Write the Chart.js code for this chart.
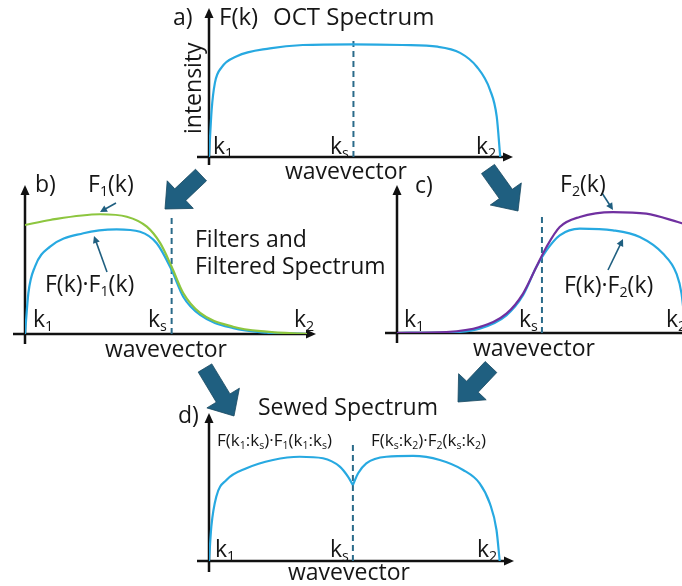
<!DOCTYPE html>
<html>
<head>
<meta charset="utf-8">
<script src="https://cdn.jsdelivr.net/npm/chart.js@4.4.1/dist/chart.umd.min.js"></script>
<style>
  body { margin: 0; background: #fff; width: 682px; height: 586px; overflow: hidden; position: relative; font-family: "Open Sans", sans-serif; }
  canvas { position: absolute; }
  .t { position: absolute; white-space: nowrap; line-height: 1; color: #161616; }
  .s { font-size: 62%; position: relative; top: 0.32em; }
  svg { position: absolute; left: 0; top: 0; }
</style>
</head>
<body>
<script>
// ---- data (k normalised: 0 = k1, 100 = k2; intensity: 100 = OCT plateau) ----
const kA = [0, 0.9, 2.0, 4.3, 9.5, 20.8, 32, 49, 66, 78, 85.7, 91.4, 95.9, 98.2, 99.4];
const specA = [0, 42, 66, 80, 90, 97, 100, 100.6, 100, 98.5, 93, 80.6, 60, 36, 0];

const kB1 = [0, 8.9, 26.6, 36.1, 43.2, 47.9, 52, 56.1, 62.1, 73.8, 85.7, 100];
const filterB1 = [97.3, 101.8, 106.9, 104.7, 95.8, 81.3, 60.1, 36.6, 18.8, 6.5, 2.1, 0];
const kB2 = [0, 1.2, 3.5, 8.9, 20.7, 32.5, 40.8, 46.7, 52, 56.1, 62.1, 73.9, 85.7, 100];
const prodB1 = [0, 36.6, 60, 78, 90, 93.5, 91.3, 81, 57.1, 33.3, 17, 5.1, 1.2, 0];

const kC1 = [0, 17.5, 29.3, 38.8, 44.7, 49.4, 53, 57.7, 64.8, 76.6, 88.4, 99.6, 103.7];
const filterC2 = [0, 0.9, 5.4, 17.3, 35.2, 58.9, 76.8, 94.6, 103.6, 108, 106.6, 99.1, 96];
const kC2 = [0, 17.5, 29.3, 38.8, 44.7, 49.4, 53, 57.7, 64.8, 76.6, 86.1, 94.3, 99.1, 100.9, 102.4];
const prodC2 = [0, 0.4, 3.9, 15.8, 33.7, 58.9, 73.8, 87.2, 93.2, 91.7, 85.7, 70.9, 53, 35.2, 0];

const kD1 = [0, 0.8, 2.5, 6, 12.9, 22, 31.2, 39.2, 45, 47.8, 49.5];
const sewD1 = [0, 30.6, 57.4, 72.3, 82.8, 90.2, 93.1, 91.7, 84.2, 75.3, 67.9];
const kD2 = [49.5, 51.3, 54.1, 61, 70.2, 79.4, 87.4, 93.1, 96.6, 98.9, 100];
const sewD2 = [67.9, 78.3, 87.2, 93.1, 93.8, 90.2, 81.3, 69.4, 51.5, 27.7, 0];

// split point ks and height of its dashed marker, per panel a, b, c, d
const ksPos = [49.3, 52, 51.4, 49.5];
const ksTop = [104.5, 104.5, 105, 106];

const BLUE = "#27a9e1", GREEN = "#8dc63f", PURPLE = "#7030a0", DASH = "#2b6b8a", DARK = "#1f5f80";

const pts = (xs, ys) => xs.map((x, i) => ({ x: x, y: ys[i] }));

const axesPlugin = {
  id: "axes",
  beforeDatasetsDraw(chart, args, opts) {
    const { ctx, chartArea: a } = chart;
    const ox = chart.scales.x.getPixelForValue(0);
    const oy = chart.scales.y.getPixelForValue(0);
    ctx.save();
    ctx.strokeStyle = "#111";
    ctx.fillStyle = "#111";
    ctx.lineWidth = 2.5;
    ctx.beginPath();
    ctx.moveTo(ox - opts.extL, oy);
    ctx.lineTo(a.right - 6, oy);
    ctx.moveTo(ox, oy + opts.extB);
    ctx.lineTo(ox, a.top + 6);
    ctx.stroke();
    ctx.beginPath();
    ctx.moveTo(a.right, oy); ctx.lineTo(a.right - 10, oy - 4.5); ctx.lineTo(a.right - 10, oy + 4.5);
    ctx.fill();
    ctx.beginPath();
    ctx.moveTo(ox, a.top); ctx.lineTo(ox - 4.5, a.top + 10); ctx.lineTo(ox + 4.5, a.top + 10);
    ctx.fill();
    ctx.restore();
  }
};

function curve(data, color) {
  return { data: data, borderColor: color, borderWidth: 2.2, pointRadius: 0, fill: false, cubicInterpolationMode: "monotone" };
}
function dashed(ks, top) {
  return { data: [{ x: ks, y: 0 }, { x: ks, y: top }], borderColor: DASH, borderWidth: 2, borderDash: [6, 4], pointRadius: 0, fill: false };
}

// g: canvas box, origin (ox, oy), px per unit (sx, sy), y-arrow tip, x-arrow end
function makePanel(g, datasets) {
  const c = document.createElement("canvas");
  c.width = g.right - g.left;
  c.height = g.bottom - g.top;
  c.style.left = g.left + "px";
  c.style.top = g.top + "px";
  document.body.appendChild(c);
  new Chart(c, {
    type: "line",
    data: { datasets: datasets },
    plugins: [axesPlugin],
    options: {
      responsive: false,
      animation: false,
      events: [],
      layout: { padding: { left: g.ox - g.left, right: g.right - g.xEnd, top: g.tip - g.top, bottom: g.bottom - g.oy } },
      scales: {
        x: { type: "linear", display: false, min: 0, max: (g.xEnd - g.ox) / g.sx },
        y: { display: false, min: 0, max: (g.oy - g.tip) / g.sy }
      },
      plugins: { legend: { display: false }, tooltip: { enabled: false }, axes: { extL: g.extL, extB: g.extB } }
    }
  });
}

makePanel({ left: 190, top: 0, right: 525, bottom: 175, ox: 209, oy: 157, sx: 2.93, sy: 1.12, tip: 8, xEnd: 513, extL: 12, extB: 8 },
  [curve(pts(kA, specA), BLUE), dashed(ksPos[0], ksTop[0])]);
makePanel({ left: 5, top: 175, right: 330, bottom: 352, ox: 25, oy: 334, sx: 2.82, sy: 1.12, tip: 185, xEnd: 316, extL: 12, extB: 10 },
  [curve(pts(kB1, filterB1), GREEN), curve(pts(kB2, prodB1), BLUE), dashed(ksPos[1], ksTop[1])]);
makePanel({ left: 375, top: 175, right: 715, bottom: 352, ox: 397, oy: 333, sx: 2.82, sy: 1.12, tip: 185, xEnd: 710, extL: 12, extB: 10 },
  [curve(pts(kC1, filterC2), PURPLE), curve(pts(kC2, prodC2), BLUE), dashed(ksPos[2], ksTop[2])]);
makePanel({ left: 190, top: 405, right: 525, bottom: 586, ox: 209, oy: 561, sx: 2.907, sy: 1.12, tip: 413, xEnd: 514, extL: 12, extB: 11 },
  [curve(pts(kD1, sewD1), BLUE), curve(pts(kD2, sewD2), BLUE), dashed(ksPos[3], ksTop[3])]);

// ---- arrows (decoration) ----
const NS = "http://www.w3.org/2000/svg";
const svg = document.createElementNS(NS, "svg");
svg.setAttribute("width", 682); svg.setAttribute("height", 586);
document.body.appendChild(svg);
function poly(points, fill) {
  const p = document.createElementNS(NS, "polygon");
  p.setAttribute("points", points.map(q => q[0].toFixed(1) + "," + q[1].toFixed(1)).join(" "));
  p.setAttribute("fill", fill);
  p.setAttribute("stroke", "#17475f");
  p.setAttribute("stroke-width", "0.8");
  svg.appendChild(p);
}
function arrowShape(t, p, w, hw, hl) {
  const dx = p[0] - t[0], dy = p[1] - t[1], L = Math.hypot(dx, dy);
  const ux = dx / L, uy = dy / L, nx = -uy, ny = ux;
  const b = [p[0] - ux * hl, p[1] - uy * hl];
  return [[t[0] + nx * w, t[1] + ny * w], [b[0] + nx * w, b[1] + ny * w], [b[0] + nx * hw, b[1] + ny * hw], p,
          [b[0] - nx * hw, b[1] - ny * hw], [b[0] - nx * w, b[1] - ny * w], [t[0] - nx * w, t[1] - ny * w]];
}
poly(arrowShape([201, 175], [165, 209], 8, 19, 21), DARK);
poly(arrowShape([488, 169], [518, 211], 8, 19, 21), DARK);
poly(arrowShape([205, 368], [234, 416], 8, 19, 21), DARK);
poly(arrowShape([491, 367], [458, 402], 8, 19, 21), DARK);
function thin(a, b) {
  const dx = b[0] - a[0], dy = b[1] - a[1], L = Math.hypot(dx, dy);
  const end = [b[0] - dx / L * 6, b[1] - dy / L * 6];
  const l = document.createElementNS(NS, "line");
  l.setAttribute("x1", a[0]); l.setAttribute("y1", a[1]); l.setAttribute("x2", end[0]); l.setAttribute("y2", end[1]);
  l.setAttribute("stroke", DARK); l.setAttribute("stroke-width", "1.6");
  svg.appendChild(l);
  const s = arrowShape(a, b, 0.8, 3.6, 7);
  const h = document.createElementNS(NS, "polygon");
  h.setAttribute("points", [s[2], s[3], s[4]].map(q => q[0].toFixed(1) + "," + q[1].toFixed(1)).join(" "));
  h.setAttribute("fill", DARK);
  svg.appendChild(h);
}
thin([116, 203], [100, 212]);
thin([107, 272], [94, 236]);
thin([602, 193], [613, 210]);
thin([608, 270], [623, 239]);

// ---- text ----
function label(html, x, base, size) {
  const d = document.createElement("div");
  d.className = "t";
  d.style.fontSize = size + "px";
  d.style.left = x + "px";
  d.style.top = (base - 0.888 * size) + "px";
  d.innerHTML = html;
  document.body.appendChild(d);
  return d;
}
const k = sub => "k<span class=\"s\">" + sub + "</span>";
const M = 23;

label("a)", 173, 25, M);
label("F(k)", 219, 25, 24);
label("OCT Spectrum", 273, 25, 24);
label(k("1"), 213, 154, M); label(k("s"), 330, 154, M); label(k("2"), 476, 154, M);
label("wavevector", 285, 179, M);
const inten = label("intensity", 0, 0, M);
inten.style.left = (201.5 - 0.888 * M) + "px";
inten.style.top = "134px";
inten.style.transformOrigin = "0 0";
inten.style.transform = "rotate(-90deg)";

label("b)", 35, 192, M);
label("F<span class=\"s\">1</span>(k)", 88, 192, M);
label("F(k)·F<span class=\"s\">1</span>(k)", 45, 292, M);
label("Filters and", 195, 247, M);
label("Filtered Spectrum", 195, 274, M);
label(k("1"), 33, 327, M); label(k("s"), 148, 327, M); label(k("2"), 294, 327, M);
label("wavevector", 105, 357, M);

label("c)", 415, 193, M);
label("F<span class=\"s\">2</span>(k)", 560, 192, M);
label("F(k)·F<span class=\"s\">2</span>(k)", 564, 293, M);
label(k("1"), 404, 327, M); label(k("s"), 519, 327, M); label(k("2"), 666, 327, M);
label("wavevector", 473, 356, M);

label("Sewed Spectrum", 258, 415, M);
label("d)", 178, 423, M);
label("F(" + k("1") + ":" + k("s") + ")·F<span class=\"s\">1</span>(" + k("1") + ":" + k("s") + ")", 217, 446, 17);
label("F(" + k("s") + ":" + k("2") + ")·F<span class=\"s\">2</span>(" + k("s") + ":" + k("2") + ")", 371, 446, 17);
label(k("1"), 215, 557, M); label(k("s"), 330, 557, M); label(k("2"), 477, 557, M);
label("wavevector", 288, 580, M);
</script>
</body>
</html>
